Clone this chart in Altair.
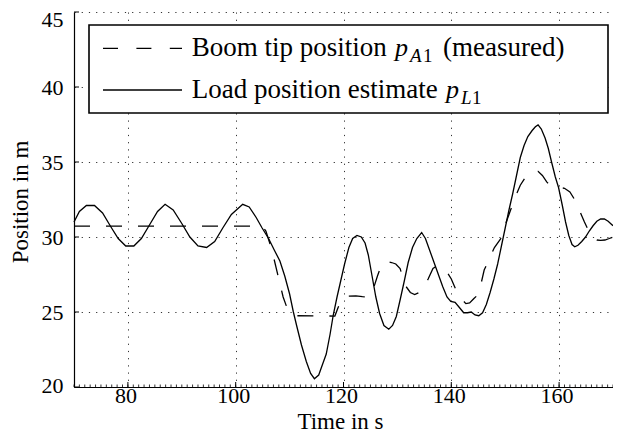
import altair as alt
import pandas as pd

# ---- data ----
# Load position estimate p_L1 (solid)
load_t = [70.0, 71.0, 72.3, 73.8, 75.3, 76.8, 78.2, 79.6, 81.1, 82.5, 84.0, 85.5, 86.9, 88.4,
          90.0, 91.5, 93.0, 94.6, 96.1, 97.6, 99.2, 101.3, 102.5, 103.8, 104.9, 106.1, 107.2,
          108.2, 109.1, 110.0, 110.7, 111.3, 112.2, 113.1, 113.9, 114.6, 115.4, 116.2, 116.8,
          117.5, 118.1, 118.8, 119.5, 120.2, 121.0, 121.7, 122.5, 123.3, 124.0, 124.6, 125.3,
          126.0, 126.7, 127.5, 128.4, 129.1, 129.8, 130.5, 131.3, 132.0, 132.8, 133.6, 134.5,
          135.2, 136.0, 136.8, 137.6, 138.4, 139.2, 139.9, 140.7, 141.5, 142.3, 143.0, 143.7,
          144.4, 145.1, 145.8, 146.5, 147.2, 147.9, 148.6, 149.3, 150.0, 150.7, 151.4, 152.1,
          152.8, 153.5, 154.2, 155.0, 155.6, 156.1, 156.7, 157.4, 158.0, 158.6, 159.3, 159.9,
          160.6, 161.2, 161.8, 162.4, 162.9, 163.5, 164.2, 164.9, 165.6, 166.3, 167.0, 167.7,
          168.4, 169.1, 169.7, 170.0]
load_v = [31.0, 31.7, 32.1, 32.1, 31.6, 30.7, 29.9, 29.4, 29.4, 29.9, 30.8, 31.7, 32.18, 31.8,
          30.9, 30.0, 29.4, 29.3, 29.7, 30.6, 31.5, 32.18, 32.0, 31.3, 30.6, 29.9, 29.1,
          28.4, 27.4, 26.2, 25.0, 24.1, 22.8, 21.7, 20.9, 20.55, 20.8, 21.6, 22.2,
          23.5, 24.8, 26.0, 27.1, 28.2, 29.3, 29.9, 30.1, 30.0, 29.6, 28.8, 27.4,
          26.0, 24.9, 24.1, 23.85, 24.1, 24.7, 25.8, 27.1, 28.3, 29.3, 29.9, 30.3,
          29.9, 29.1, 28.3, 27.5, 26.7, 26.0, 25.7, 25.65, 25.3, 24.95, 24.95, 25.0,
          24.8, 24.75, 24.95, 25.5, 26.3, 27.2, 28.2, 29.4, 30.6, 31.8, 32.9, 34.1,
          35.3, 36.1, 36.7, 37.1, 37.35, 37.47, 37.2, 36.6, 35.9, 35.0, 34.0, 33.3,
          32.1, 31.0, 30.1, 29.5, 29.35, 29.45, 29.7, 30.0, 30.4, 30.75, 31.05, 31.2,
          31.2, 31.05, 30.85, 30.75]

# Boom tip position p_A1 (measured, dashed)
boom_t = [70.0, 104.9, 105.6, 106.4, 107.2, 108.0, 108.8, 109.6, 110.4, 111.2, 118.4, 119.0,
          119.6, 120.2, 122.3, 123.5, 124.6, 125.5, 126.3, 127.1, 128.0, 128.9, 129.7, 130.5,
          131.0, 131.6, 132.4, 133.2, 134.0, 134.8, 135.7, 136.6, 137.2, 137.8, 138.6, 139.3,
          140.0, 140.9, 141.8, 142.7, 143.4, 144.2, 144.8, 145.4, 146.1, 147.0, 148.0, 149.4,
          150.2, 151.0, 151.9, 152.8, 153.6, 154.4, 155.2, 156.1, 156.9, 157.7, 158.5, 159.3,
          160.1, 161.0, 162.0, 162.7, 163.5, 164.1, 164.7, 165.5, 166.2, 167.0, 167.7, 168.5,
          169.3, 170.0]
boom_v = [30.73, 30.73, 30.4, 29.5, 28.4, 27.2, 26.0, 25.2, 24.85, 24.75, 24.73, 25.3,
          25.8, 26.05, 26.07, 26.02, 26.0, 26.5, 27.4, 28.2, 28.38, 28.3, 28.2, 27.9,
          27.3, 26.7, 26.3, 26.16, 26.3, 26.56, 27.2, 27.9, 28.05, 28.07, 27.9, 27.6,
          27.2, 26.45, 25.9, 25.56, 25.6, 25.9, 26.1, 26.7, 27.8, 28.5, 29.3, 30.0,
          31.0, 31.8, 32.7, 33.45, 33.9, 34.2, 34.35, 34.38, 34.1, 33.67, 33.4, 33.35,
          33.3, 33.25, 33.0, 32.6, 32.0, 31.5, 31.0, 30.4, 30.0, 29.8, 29.78, 29.8,
          29.9, 30.0]

x_major = [80, 100, 120, 140, 160]
x_minor = list(range(70, 171))
y_major = [20, 25, 30, 35, 40, 45]

x_title = "Time in s"
y_title = "Position in m"
leg1_text = "Boom tip position"
leg1_tail = "(measured)"
leg2_text = "Load position estimate"

FONT = "'Liberation Serif', 'Times New Roman', 'DejaVu Serif', serif"
W, H = 539, 375

xs = alt.Scale(domain=[70, 170], nice=False, zero=False)
ys = alt.Scale(domain=[20, 45], nice=False, zero=False)

load_df = pd.DataFrame({"t": load_t, "v": load_v})
boom_df = pd.DataFrame({"t": boom_t, "v": boom_v})

x_axis = alt.Axis(values=x_major, grid=True, gridDash=[1.2, 6], gridColor="#333", gridWidth=1,
                  ticks=False, domain=True, domainColor="black", domainWidth=1.2,
                  labelFont=FONT, labelFontSize=22, labelColor="black",
                  labelBaseline="alphabetic", labelPadding=15, labelOffset=-2.5,
                  title=x_title, titleFont=FONT, titleFontSize=23, titleFontWeight="normal",
                  titleColor="black", titleX=266, titleY=41, titleBaseline="alphabetic",
                  titleAnchor="middle")
y_axis = alt.Axis(values=y_major, grid=True, gridDash=[1.2, 6], gridColor="#333", gridWidth=1,
                  ticks=False, domain=True, domainColor="black", domainWidth=1.2,
                  labelFont=FONT, labelFontSize=22, labelColor="black",
                  labelBaseline="middle", labelPadding=11,
                  labelOffset={"condition": [{"test": "datum.value == 45", "value": 7.5},
                                             {"test": "datum.value == 20", "value": -2}],
                               "value": 0},
                  title=y_title, titleFont=FONT, titleFontSize=23, titleFontWeight="normal",
                  titleColor="black", titleX=-47, titleY=189.5, titleAngle=270,
                  titleBaseline="alphabetic", titleAlign="center")

load_line = alt.Chart(load_df).mark_line(color="black", strokeWidth=1.3).encode(
    x=alt.X("t:Q", scale=xs, axis=x_axis),
    y=alt.Y("v:Q", scale=ys, axis=y_axis),
    order="t:Q",
)
boom_line = alt.Chart(boom_df).mark_line(color="black", strokeWidth=1.3, strokeDash=[16, 16]).encode(
    x=alt.X("t:Q", scale=xs),
    y=alt.Y("v:Q", scale=ys),
    order="t:Q",
)

xmaj_ticks = alt.Chart(pd.DataFrame({"t": x_major})).mark_rule(color="black", strokeWidth=1).encode(
    x=alt.X("t:Q", scale=xs), y=alt.value(H), y2=alt.value(H - 5))
xmin_ticks = alt.Chart(pd.DataFrame({"t": x_minor})).mark_rule(color="black", strokeWidth=0.8).encode(
    x=alt.X("t:Q", scale=xs), y=alt.value(H), y2=alt.value(H - 2.5))
ymaj_ticks = alt.Chart(pd.DataFrame({"v": y_major})).mark_rule(color="black", strokeWidth=1).encode(
    y=alt.Y("v:Q", scale=ys), x=alt.value(0), x2=alt.value(5))

one = pd.DataFrame({"k": [0]})
leg_box = alt.Chart(one).mark_rect(fill="white", stroke="black", strokeWidth=1.6).encode(
    x=alt.value(15), x2=alt.value(534), y=alt.value(13), y2=alt.value(101))
leg_dash = alt.Chart(one).mark_rule(color="black", strokeWidth=1.3, strokeDash=[15, 18.4]).encode(
    x=alt.value(29), x2=alt.value(108), y=alt.value(36.3))
leg_solid = alt.Chart(one).mark_rule(color="black", strokeWidth=1.3).encode(
    x=alt.value(29), x2=alt.value(108), y=alt.value(78))


def txt(s, x, y, size=27, style="normal"):
    return alt.Chart(one).mark_text(text=s, font=FONT, fontSize=size, fontStyle=style,
                                    align="left", baseline="alphabetic", color="black").encode(
        x=alt.value(x), y=alt.value(y))


legend_texts = [
    txt(leg1_text, 117.7, 44),
    txt("p", 321, 44, size=26, style="italic"),
    txt("A", 336, 49.7, size=19, style="italic"),
    txt("1", 349, 49.7, size=19),
    txt(leg1_tail, 369, 44),
    txt(leg2_text, 117.7, 86.3),
    txt("p", 372, 86.3, size=26, style="italic"),
    txt("L", 387, 91.7, size=19, style="italic"),
    txt("1", 398, 91.7, size=19),
]

chart = alt.layer(
    load_line, boom_line, xmin_ticks, xmaj_ticks, ymaj_ticks,
    leg_box, leg_dash, leg_solid, *legend_texts
).properties(
    width=W, height=H,
    autosize=alt.AutoSizeParams(type="none"),
    padding={"left": 66, "top": 4, "right": 0, "bottom": 46},
).configure_view(stroke=None)

chart.save("out.html", embed_options={"renderer": "svg", "actions": False})
